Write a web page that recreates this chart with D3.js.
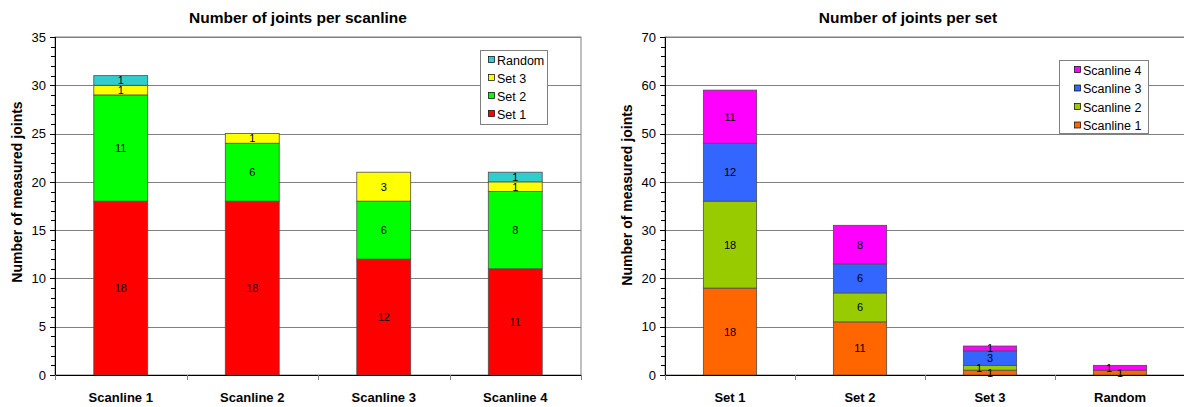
<!DOCTYPE html>
<html>
<head>
<meta charset="utf-8">
<script src="https://cdn.jsdelivr.net/npm/d3@7/dist/d3.min.js"></script>
<style>
  html, body { margin: 0; padding: 0; background: #fff; }
  svg { display: block; font-family: "Liberation Sans", Arial, sans-serif; }
</style>
</head>
<body>
<svg id="chart" width="1184" height="407"></svg>
<script>
// Joint counts per scanline, split by joint set
const scanlines = ["Scanline 1", "Scanline 2", "Scanline 3", "Scanline 4"];
const jointSets = ["Set 1", "Set 2", "Set 3", "Random"];
const set1Counts   = [18, 18, 12, 11];
const set2Counts   = [11, 6, 6, 8];
const set3Counts   = [1, 1, 3, 1];
const randomCounts = [1, 0, 0, 1];

const setColors = ["#ff0000", "#00ff00", "#ffff00", "#33cccc"];
const scanLegend = ["Scanline 1", "Scanline 2", "Scanline 3", "Scanline 4"];
const scanColors = ["#ff6600", "#99cc00", "#3366ff", "#ff00ff"];

const leftTicks = [0, 5, 10, 15, 20, 25, 30, 35];
const rightTicks = [0, 10, 20, 30, 40, 50, 60, 70];

const svg = d3.select("#chart");

function drawChart(opts) {
  const { x0, x1, y0, y1, categories, series, keys, colors, yMax, ticks, minorStep, title, legend } = opts;
  const g = svg.append("g");

  const x = d3.scaleBand().domain(categories).range([x0, x1]).paddingInner(0.59).paddingOuter(0.295);
  const xOuter = d3.scaleBand().domain(categories).range([x0, x1]);
  const y = d3.scaleLinear().domain([0, yMax]).range([y1, y0]);

  // plot frame (top and right edges) and gridlines
  g.append("rect").attr("x", x0).attr("y", y0).attr("width", x1 - x0).attr("height", y1 - y0)
    .attr("fill", "none").attr("stroke", "#808080").attr("stroke-width", 1);
  g.selectAll(".grid").data(ticks.filter(t => t > 0)).join("line")
    .attr("x1", x0).attr("x2", x1)
    .attr("y1", d => Math.round(y(d)) + 0.5).attr("y2", d => Math.round(y(d)) + 0.5)
    .attr("stroke", "#808080").attr("stroke-width", 1);

  // stacked bars
  const rows = categories.map((c, i) => {
    const r = { cat: c };
    keys.forEach((k, j) => r[k] = series[j][i]);
    return r;
  });
  const stacked = d3.stack().keys(keys)(rows);

  stacked.forEach((layer, j) => {
    g.append("g").selectAll("rect").data(layer.filter(d => d[1] - d[0] > 0)).join("rect")
      .attr("x", d => x(d.data.cat))
      .attr("width", x.bandwidth())
      .attr("y", d => y(d[1]))
      .attr("height", d => y(d[0]) - y(d[1]))
      .attr("fill", colors[j])
      .attr("stroke", "#4d4d4d").attr("stroke-width", 0.8);
  });

  // value labels, nudged sideways when a label would sit on top of the one below it
  categories.forEach((c, i) => {
    let prevY = null, prevDx = 0;
    stacked.forEach((layer, j) => {
      const d = layer[i];
      const v = d[1] - d[0];
      if (v <= 0) return;
      const cy = y((d[0] + d[1]) / 2);
      let dx = 0;
      if (prevY !== null && Math.abs(prevY - cy) < 9) dx = prevDx === 0 ? -11 : 0;
      g.append("text")
        .attr("x", x(c) + x.bandwidth() / 2 + dx)
        .attr("y", cy)
        .attr("dy", "0.36em")
        .attr("text-anchor", "middle")
        .attr("font-size", 11)
        .attr("fill", "#000")
        .text(v);
      prevY = cy; prevDx = dx;
    });
  });

  // y axis: line, major and minor ticks, labels
  g.append("line").attr("x1", x0 + 0.5).attr("x2", x0 + 0.5).attr("y1", y0).attr("y2", y1)
    .attr("stroke", "#000").attr("stroke-width", 1);
  const minor = d3.range(0, yMax + 0.001, minorStep);
  g.selectAll(".minor").data(minor).join("line")
    .attr("x1", x0 - 4).attr("x2", x0)
    .attr("y1", d => Math.round(y(d)) + 0.5).attr("y2", d => Math.round(y(d)) + 0.5)
    .attr("stroke", "#000");
  g.selectAll(".major").data(ticks).join("line")
    .attr("x1", x0 - 5).attr("x2", x0)
    .attr("y1", d => Math.round(y(d)) + 0.5).attr("y2", d => Math.round(y(d)) + 0.5)
    .attr("stroke", "#000");
  g.selectAll(".ylab").data(ticks).join("text")
    .attr("x", x0 - 9).attr("y", d => y(d)).attr("dy", "0.36em")
    .attr("text-anchor", "end").attr("font-size", 13).attr("fill", "#000")
    .text(d => d);

  // x axis: baseline, category separators, labels
  g.append("line").attr("x1", x0).attr("x2", x1).attr("y1", y1 + 0.5).attr("y2", y1 + 0.5)
    .attr("stroke", "#000").attr("stroke-width", 1);
  const seps = categories.map(c => xOuter(c)).concat([x1]);
  g.selectAll(".xtick").data(seps).join("line")
    .attr("x1", d => Math.round(d) + 0.5).attr("x2", d => Math.round(d) + 0.5)
    .attr("y1", y1).attr("y2", y1 + 5)
    .attr("stroke", "#808080");
  g.selectAll(".xlab").data(categories).join("text")
    .attr("x", d => xOuter(d) + xOuter.bandwidth() / 2).attr("y", 397)
    .attr("dy", "0.36em")
    .attr("text-anchor", "middle").attr("font-size", 13).attr("font-weight", "bold")
    .text(d => d);

  // titles: chart title is centred on the whole chart area
  g.append("text").attr("x", opts.titleX).attr("y", 17).attr("dy", "0.36em")
    .attr("text-anchor", "middle").attr("font-size", 15.5).attr("font-weight", "bold").text(title);
  g.append("text")
    .attr("transform", `translate(${opts.yTitleX},${opts.yTitleY}) rotate(-90)`)
    .attr("dy", "0.36em")
    .attr("text-anchor", "middle").attr("font-size", 14).attr("font-weight", "bold")
    .text("Number of measured joints");

  // legend, top entry is the last series
  const L = legend;
  const lg = g.append("g");
  lg.append("rect").attr("x", L.x + 0.5).attr("y", L.y + 0.5).attr("width", L.w).attr("height", L.h)
    .attr("fill", "#fff").attr("stroke", "#808080");
  const entries = L.labels.map((t, i) => ({ t, c: L.colors[i] })).reverse();
  entries.forEach((e, i) => {
    const cy = L.y + 10 + i * L.step;
    lg.append("rect").attr("x", L.x + L.sw + 0.5).attr("y", cy - 3.5).attr("width", 6).attr("height", 6)
      .attr("fill", e.c).attr("stroke", "#000").attr("stroke-width", 0.7);
    lg.append("text").attr("x", L.x + L.sw + 9).attr("y", cy).attr("dy", "0.36em")
      .attr("font-size", 12.5).attr("fill", "#000").text(e.t);
  });
}

drawChart({
  x0: 55, x1: 581, y0: 37, y1: 375,
  categories: scanlines,
  series: [set1Counts, set2Counts, set3Counts, randomCounts],
  keys: jointSets,
  colors: setColors,
  yMax: 35, ticks: leftTicks, minorStep: 1,
  title: "Number of joints per scanline",
  titleX: 298,
  yTitleX: 17, yTitleY: 192,
  legend: { x: 480, y: 50, w: 67, h: 74, step: 18, sw: 8, labels: jointSets, colors: setColors }
});

// Same counts regrouped: each joint set split by scanline
const setCategories = ["Set 1", "Set 2", "Set 3", "Random"];
const scanline1Counts = [18, 11, 1, 1];
const scanline2Counts = [18, 6, 1, 0];
const scanline3Counts = [12, 6, 3, 0];
const scanline4Counts = [11, 8, 1, 1];

drawChart({
  x0: 665, x1: 1185, y0: 37, y1: 375,
  categories: setCategories,
  series: [scanline1Counts, scanline2Counts, scanline3Counts, scanline4Counts],
  keys: scanLegend,
  colors: scanColors,
  yMax: 70, ticks: rightTicks, minorStep: 2,
  title: "Number of joints per set",
  titleX: 908,
  yTitleX: 627, yTitleY: 195,
  legend: { x: 1059, y: 60, w: 89, h: 73, step: 18.5, sw: 15, labels: scanLegend, colors: scanColors }
});
</script>
</body>
</html>
